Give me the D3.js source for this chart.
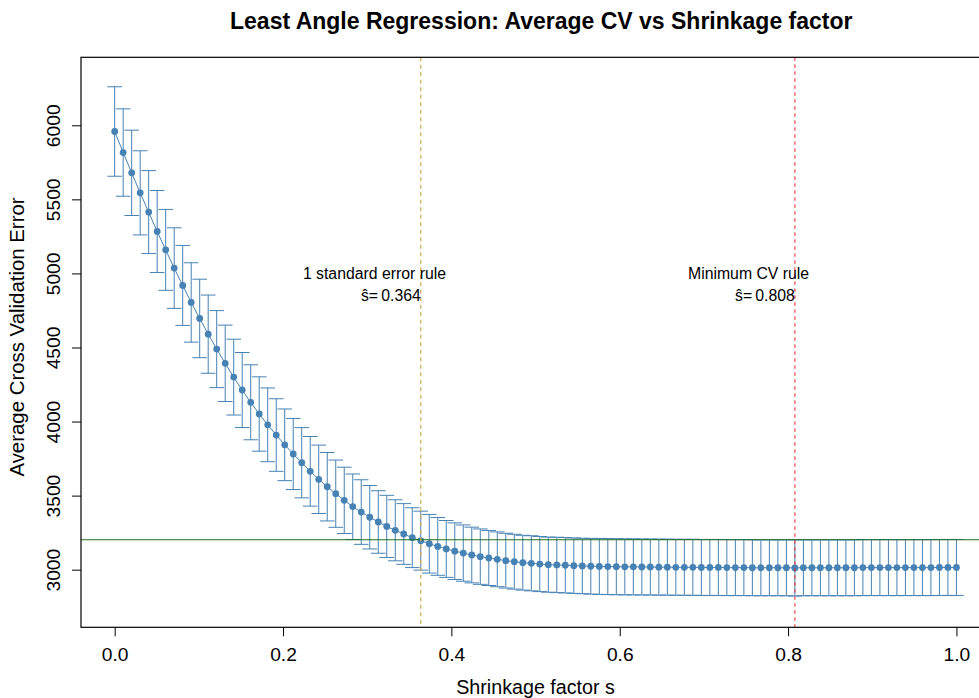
<!DOCTYPE html>
<html>
<head>
<meta charset="utf-8">
<script src="https://cdn.jsdelivr.net/npm/d3@7/dist/d3.min.js"></script>
<style>
  html, body { margin: 0; padding: 0; background: #ffffff; }
  svg { display: block; font-family: "Liberation Sans", Arial, Helvetica, sans-serif; }
</style>
</head>
<body>
<svg id="chart" width="979" height="698"></svg>
<script>
// Shrinkage factor grid: 100 evenly spaced values on [0, 1]
const shrinkage = d3.range(100).map(i => i / 99);

// Average 10-fold CV error at each shrinkage value
const cvMean = [
  5958, 5816, 5679, 5544, 5414, 5283, 5159, 5036, 4919, 4804,
  4696, 4590, 4489, 4393, 4300, 4213, 4130, 4051, 3978, 3909,
  3843, 3781, 3722, 3664, 3610, 3560, 3513, 3468, 3425, 3389,
  3354, 3322, 3292, 3266, 3241, 3216, 3196, 3175, 3157, 3140,
  3125, 3112, 3099, 3088, 3079, 3070, 3061, 3054, 3047, 3043,
  3038, 3034, 3032, 3030, 3027, 3025, 3023, 3022, 3021, 3020,
  3019, 3019, 3018, 3018, 3017, 3017, 3016, 3016, 3016, 3015,
  3015, 3015, 3014, 3014, 3014, 3013, 3013, 3013, 3013, 3013,
  3012, 3013, 3013, 3013, 3013, 3013, 3013, 3013, 3014, 3014,
  3014, 3014, 3014, 3014, 3014, 3014, 3014, 3015, 3015, 3015
];

// Standard error of the CV error at each shrinkage value
const cvSE = [
  302, 295, 288, 284, 280, 277, 273, 272, 270, 268,
  265, 264, 260, 258, 256, 253, 253, 251, 249, 245,
  242, 240, 237, 235, 231, 231, 227, 224, 221, 218,
  214, 211, 210, 206, 205, 202, 199, 198, 195, 192,
  191, 190, 188, 187, 186, 185, 185, 185, 185, 186,
  186, 186, 187, 187, 187, 187, 188, 189, 189, 189,
  189, 189, 189, 189, 189, 189, 189, 189, 189, 189,
  189, 189, 189, 189, 189, 189, 189, 189, 189, 189,
  190, 189, 189, 189, 189, 189, 189, 189, 189, 189,
  189, 189, 189, 189, 189, 189, 189, 189, 189, 189
];

const xTicks = [0, 0.2, 0.4, 0.6, 0.8, 1.0];
const yTicks = [3000, 3500, 4000, 4500, 5000, 5500, 6000];

const titleText = "Least Angle Regression: Average CV vs Shrinkage factor";
const xLabel = "Shrinkage factor s";
const yLabel = "Average Cross Validation Error";

const points = shrinkage.map((s, i) => ({ s, mean: cvMean[i], se: cvSE[i] }));

// Minimum-CV choice and the one-standard-error choice
const iMin = d3.minIndex(cvMean);
const threshold = cvMean[iMin] + cvSE[iMin];
const iOneSE = cvMean.findIndex(v => v <= threshold);
const sMin = shrinkage[iMin];
const sOneSE = shrinkage[iOneSE];

const svg = d3.select("#chart");

const plot = { left: 81, right: 990.1, top: 57.3, bottom: 627.3 };

const x = d3.scaleLinear().domain([-0.04, 1.04]).range([plot.left, plot.right]);
const y = d3.scaleLinear().domain([2611, 6459]).range([plot.bottom, plot.top]);

const barColor = "#4682B4";

// Error bars
const bars = svg.append("g").attr("stroke", barColor).attr("stroke-width", 1).attr("fill", "none");
const capHalf = 7.3;
points.forEach(d => {
  const cx = x(d.s), y0 = y(d.mean - d.se), y1 = y(d.mean + d.se);
  bars.append("line").attr("x1", cx).attr("x2", cx).attr("y1", y0).attr("y2", y1);
  bars.append("line").attr("x1", cx - capHalf).attr("x2", cx + capHalf).attr("y1", y1).attr("y2", y1);
  bars.append("line").attr("x1", cx - capHalf).attr("x2", cx + capHalf).attr("y1", y0).attr("y2", y0);
});

// Mean curve
svg.append("path")
  .datum(points)
  .attr("fill", "none")
  .attr("stroke", barColor)
  .attr("stroke-width", 1)
  .attr("d", d3.line().x(d => x(d.s)).y(d => y(d.mean)));

svg.append("g").selectAll("circle")
  .data(points)
  .join("circle")
  .attr("cx", d => x(d.s))
  .attr("cy", d => y(d.mean))
  .attr("r", 3.4)
  .attr("fill", barColor);

// Reference lines
svg.append("line")
  .attr("x1", plot.left).attr("x2", plot.right)
  .attr("y1", y(threshold)).attr("y2", y(threshold))
  .attr("stroke", "#1f6e1f").attr("stroke-width", 1.1);

svg.append("line")
  .attr("x1", x(sOneSE)).attr("x2", x(sOneSE))
  .attr("y1", plot.top).attr("y2", plot.bottom)
  .attr("stroke", "#D4AA4E").attr("stroke-width", 1.2)
  .attr("stroke-dasharray", "4,3.5");

svg.append("line")
  .attr("x1", x(sMin)).attr("x2", x(sMin))
  .attr("y1", plot.top).attr("y2", plot.bottom)
  .attr("stroke", "#F02020").attr("stroke-width", 1)
  .attr("stroke-dasharray", "3.5,3.5");

// Annotations
const annoSize = 15.8;
function annotate(sVal, label) {
  svg.append("text")
    .attr("x", x(sVal - 0.055)).attr("y", y(5000)).attr("dy", "0.35em")
    .attr("text-anchor", "middle").attr("font-size", annoSize).attr("fill", "#000")
    .text(label);
  svg.append("text")
    .attr("x", x(sVal)).attr("y", y(4850)).attr("dy", "0.35em")
    .attr("text-anchor", "end").attr("font-size", annoSize).attr("fill", "#000")
    .text("\u015D=" + "\u2009" + d3.format(".3f")(sVal));
}
annotate(sOneSE, "1 standard error rule");
annotate(sMin, "Minimum CV rule");

// Plot frame
svg.append("rect")
  .attr("x", plot.left).attr("y", plot.top)
  .attr("width", plot.right - plot.left).attr("height", plot.bottom - plot.top)
  .attr("fill", "none").attr("stroke", "#000").attr("stroke-width", 1.2);

// Axes
const fontSize = 19.2;
const xAxis = svg.append("g")
  .attr("transform", `translate(0,${plot.bottom})`)
  .call(d3.axisBottom(x).tickValues(xTicks).tickFormat(d3.format(".1f")).tickSize(9).tickPadding(11));
xAxis.select(".domain").remove();
xAxis.selectAll("text").attr("font-size", fontSize).attr("font-family", null).attr("fill", "#000");
xAxis.selectAll("line").attr("stroke", "#000");

const yAxis = svg.append("g")
  .attr("transform", `translate(${plot.left},0)`)
  .call(d3.axisLeft(y).tickValues(yTicks).tickFormat(d3.format("d")).tickSize(9));
yAxis.select(".domain").remove();
yAxis.selectAll("line").attr("stroke", "#000");
yAxis.selectAll("text")
  .attr("font-size", fontSize).attr("font-family", null).attr("fill", "#000")
  .attr("transform", "rotate(-90)")
  .attr("x", 0).attr("y", -21.5).attr("dy", 0)
  .attr("text-anchor", "middle");

// Titles
svg.append("text")
  .attr("x", 852.5).attr("y", 29.3)
  .attr("text-anchor", "end").attr("font-size", 23).attr("font-weight", "bold")
  .text(titleText);

svg.append("text")
  .attr("x", (plot.left + plot.right) / 2).attr("y", 693.5)
  .attr("text-anchor", "middle").attr("font-size", 19.7)
  .text(xLabel);

svg.append("text")
  .attr("transform", `translate(24,337) rotate(-90)`)
  .attr("text-anchor", "middle").attr("font-size", 20.4)
  .text(yLabel);
</script>
</body>
</html>
